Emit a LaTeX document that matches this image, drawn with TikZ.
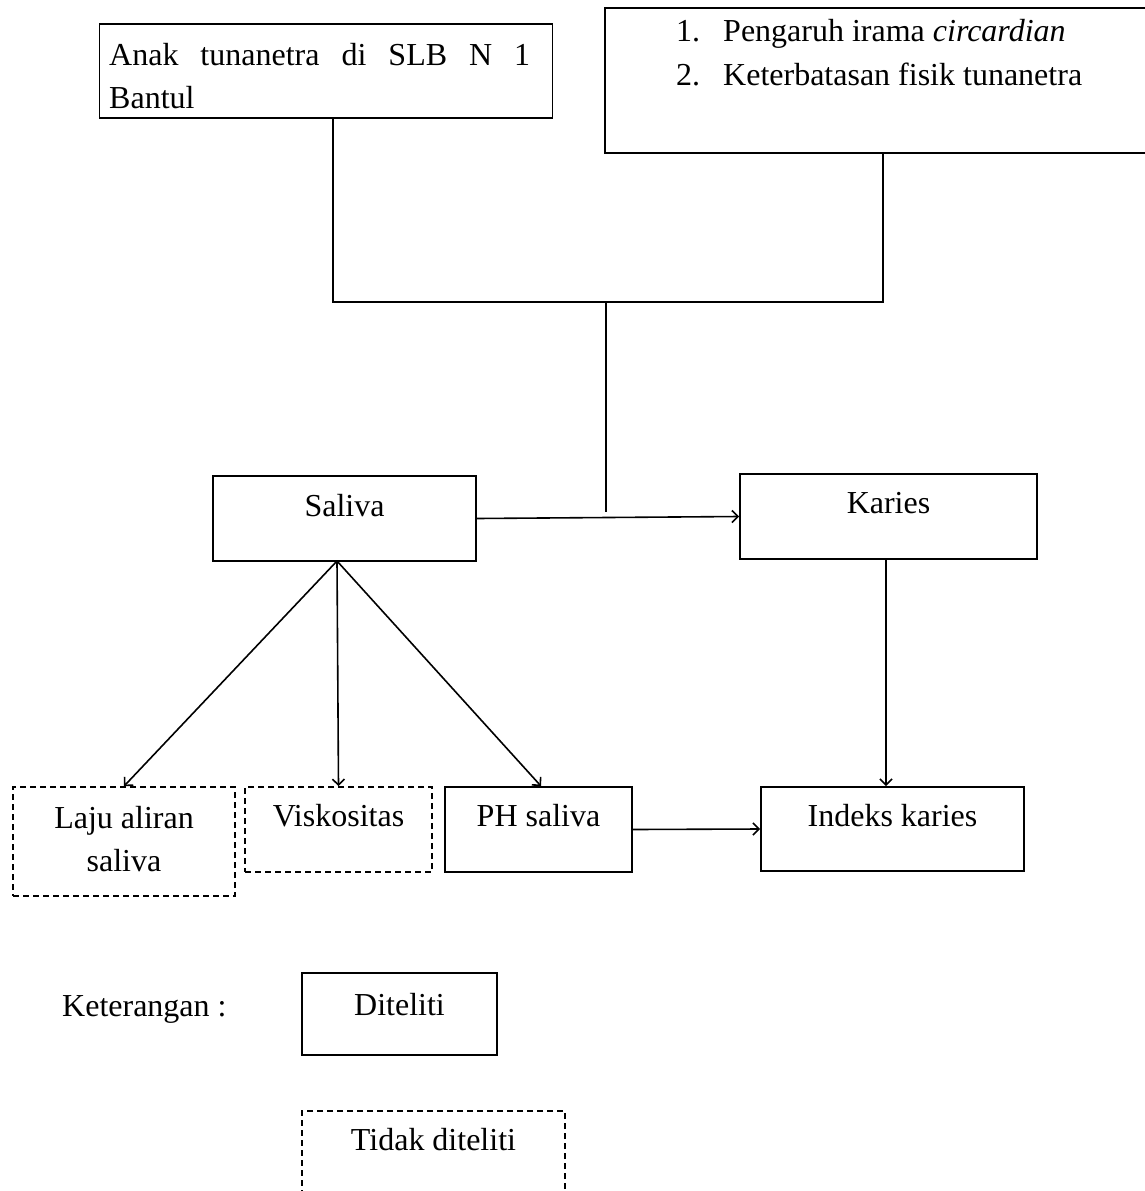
\documentclass[tikz,border=0pt]{standalone}
\usepackage{fontspec}
\setmainfont{Liberation Serif}
\usetikzlibrary{arrows.meta}

\tikzset{
  kotak/.style={draw, line width=1.8pt, inner sep=0pt},
  kotakputus/.style={kotak, line width=1.6pt, dash pattern=on 6pt off 4pt},
  teks/.style={inner sep=0pt, anchor=base, font=\fontsize{32}{43}\selectfont},
  garis/.style={line width=1.6pt},
  panah/.style={garis, -{Straight Barb[length=6pt,width=12pt]}}
}

\begin{document}
\begin{tikzpicture}[x=1pt, y=-1pt]
    \useasboundingbox (0,0) rectangle (1145,1191);

    % Boxes
    \node[kotak, minimum width=453pt, minimum height=94pt] (anak) at (326,71) {};
    \node[kotak, minimum width=545pt, minimum height=145pt] (faktor) at (877.5,80.5) {};
    \node[kotak, minimum width=263pt, minimum height=85pt] (saliva) at (344.5,518.5) {};
    \node[kotak, minimum width=297pt, minimum height=85pt] (karies) at (888.5,516.5) {};
    \node[kotakputus, minimum width=222pt, minimum height=109pt] (laju) at (124,841.5) {};
    \node[kotakputus, minimum width=187pt, minimum height=85pt] (visko) at (338.5,829.5) {};
    \node[kotak, minimum width=187pt, minimum height=85pt] (ph) at (538.5,829.5) {};
    \node[kotak, minimum width=263pt, minimum height=84pt] (indeks) at (892.5,829) {};

    % Texts
    \node[teks, anchor=base west, text width=421pt, align=justify] (anakteks) at (109,65) {Anak tunanetra di SLB N 1\linebreak Bantul};
    \node[teks, anchor=base west] (nomor1) at (676,41) {1.};
    \node[teks, anchor=base west] (butir1) at (723,41) {Pengaruh irama \textit{circardian}};
    \node[teks, anchor=base west] (nomor2) at (676,85) {2.};
    \node[teks, anchor=base west] (butir2) at (723,85) {Keterbatasan fisik tunanetra};
    \node[teks] (salivateks) at ([yshift=-41pt]saliva.north) {Saliva};
    \node[teks] (kariesteks) at ([yshift=-40pt]karies.north) {Karies};
    \node[teks, align=center] (lajuteks) at ([yshift=-85pt]laju.north) {Laju aliran\\saliva};
    \node[teks] (viskoteks) at ([yshift=-40pt]visko.north) {Viskositas};
    \node[teks] (phteks) at ([yshift=-40pt]ph.north) {PH saliva};
    \node[teks] (indeksteks) at ([yshift=-40pt]indeks.north) {Indeks karies};

    % Edges
    \coordinate (kiri) at (333,302);
    \coordinate (kanan) at (883,302);
    \coordinate (tengah) at (606,302);
    \coordinate (ujung) at (606,512);
    \coordinate (puncak) at (337,561);
    \draw[garis] (anak.south -| kiri) -- (kiri) -- (kanan) -- (faktor.south -| kanan);
    \draw[garis] (tengah) -- (ujung);
    \draw[panah] (saliva.east) -- (karies.west);
    \draw[panah] (puncak) -- (laju.north);
    \draw[panah] (puncak) -- (visko.north);
    \draw[panah] (puncak) -- ([xshift=2.5pt]ph.north);
    \draw[panah] (ph.east) -- (indeks.west);
    \draw[panah] ([xshift=-2.5pt]karies.south) -- ([xshift=-2.5pt]karies.south |- indeks.north);

    % Legend
    \node[teks, anchor=base west] (keterangan) at (62,1016) {Keterangan :};
    \node[kotak, minimum width=195pt, minimum height=82pt] (diteliti) at (399.5,1014) {};
    \node[kotakputus, minimum width=263pt, minimum height=85pt] (tidak) at (433.5,1153.5) {};
    \node[teks] (ditelititeks) at ([yshift=-43pt]diteliti.north) {Diteliti};
    \node[teks] (tidakteks) at ([yshift=-40pt]tidak.north) {Tidak diteliti};
\end{tikzpicture}
\end{document}
